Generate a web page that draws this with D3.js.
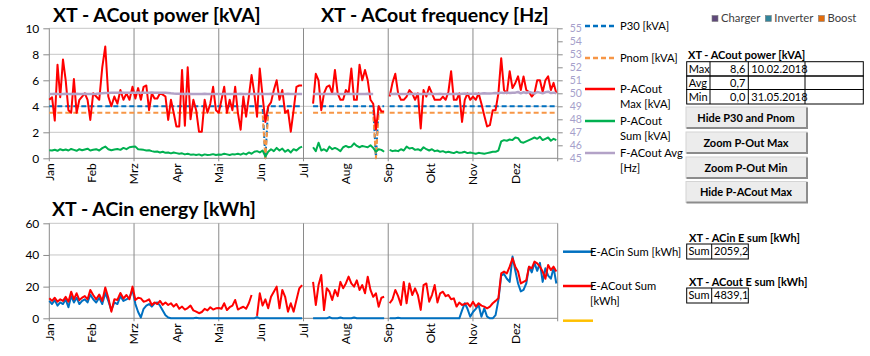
<!DOCTYPE html>
<html><head><meta charset="utf-8">
<script src="https://cdn.jsdelivr.net/npm/d3@7"></script>
<style>
body{margin:0;background:#fff;}
svg{display:block;font-family:Lato,"Open Sans",sans-serif;}
</style></head><body>
<svg id="c" width="870" height="356"></svg>
<script>
// ---------- DATA (2018, one sample every 2nd day, null = no data) ----------
const months = ["Jan","Feb","Mrz","Apr","Mai","Jun","Jul","Aug","Sep","Okt","Nov","Dez"];
const year = 2018, stepDays = 2;
const leftTicksTop = [0,2,4,6,8,10];
const rightTicksTop = [45,46,47,48,49,50,51,52,53,54,55];
const leftTicksBottom = [0,20,40,60];

// P-ACout Max [kVA]
const pMax = [
 4.5,4.7,2.9,7.2,4.7,7.6,6.0,3.7,3.5,6.1,3.5,4.5,4.75,5.0,4.5,2.95,
 5.0,4.75,4.5,7.0,8.6,4.75,4.0,4.75,4.2,5.25,4.5,5.0,4.5,5.5,
 4.6,5.4,4.5,5.5,5.6,3.7,5.0,4.6,4.6,5.0,4.9,4.75,2.95,4.5,3.5,
 2.45,2.45,6.8,2.5,7.0,3.0,4.5,3.7,2.05,2.05,4.5,3.5,4.2,5.5,3.7,
 3.5,4.5,5.5,3.5,4.5,3.7,5.5,3.5,2.2,4.75,3.2,4.75,6.4,5.0,3.2,6.9,
 4.8,2.8,4.0,4.3,5.25,6.0,4.5,5.25,3.5,3.7,2.05,3.7,5.5,5.6,5.6,
 null,null,null,4.2,6.5,6.0,3.7,5.0,5.5,5.6,5.0,6.8,5.0,4.5,4.5,
 5.25,5.0,6.9,4.5,4.5,7.2,6.0,6.8,6.0,4.5,4.2,2.2,4.0,3.6,3.6,null,
 4.75,5.8,6.5,5.0,4.5,4.5,4.75,5.25,5.0,4.5,5.0,2.3,5.25,4.75,5.5,
 5.0,4.5,4.5,4.5,4.75,4.5,5.1,6.7,4.5,4.5,5.0,2.8,4.5,5.0,4.5,
 4.75,4.5,5.0,4.2,3.3,2.45,2.55,3.7,3.7,5.0,7.7,5.25,5.0,6.7,5.4,
 5.8,6.3,5.25,6.3,5.25,5.1,4.75,5.0,6.0,6.0,5.1,6.0,6.3,5.25,5.8,5.0];

// P-ACout Sum [kVA]
const pSum = [
 0.62,0.6,0.66,0.58,0.7,0.62,0.68,0.6,0.72,0.65,0.58,0.7,0.62,0.68,0.74,0.6,
 0.65,0.7,0.6,0.78,0.9,0.7,0.62,0.68,0.72,0.65,0.8,0.7,0.85,0.88,
 0.9,0.7,0.68,0.65,0.6,0.62,0.55,0.5,0.52,0.45,0.5,0.42,0.45,0.38,0.45,
 0.4,0.35,0.38,0.3,0.35,0.28,0.3,0.25,0.3,0.22,0.3,0.25,0.28,0.32,0.26,
 0.3,0.28,0.35,0.3,0.25,0.32,0.3,0.35,0.28,0.38,0.3,0.45,0.35,0.5,0.55,0.45,
 0.6,0.15,0.5,0.7,0.55,0.8,0.6,0.75,0.5,0.65,0.45,0.7,0.6,0.8,0.9,
 null,null,null,0.85,0.55,1.2,0.6,0.7,0.55,0.9,0.7,0.8,0.7,0.55,0.85,
 0.95,0.85,0.9,1.15,0.95,0.85,0.95,0.9,0.85,1.0,0.8,0.5,0.7,0.65,0.5,null,
 0.65,0.55,0.6,0.55,0.7,0.6,0.9,0.75,0.8,0.65,0.7,0.6,0.85,0.7,0.6,
 0.7,0.55,0.6,0.5,0.55,0.45,0.5,0.45,0.4,0.5,0.42,0.45,0.5,0.4,0.45,
 0.4,0.35,0.42,0.38,0.35,0.4,0.45,0.5,0.5,0.6,1.3,1.4,1.35,1.45,1.4,
 1.6,1.55,1.25,1.2,1.3,1.4,1.5,1.6,1.5,1.65,1.4,1.5,1.6,1.35,1.5,1.4];

// F-ACout Avg [Hz]
const fAvg = [
 49.95,49.95,49.97,49.95,49.93,49.95,49.96,49.95,49.95,49.94,49.96,49.95,49.95,49.97,49.95,49.95,
 49.95,49.96,49.98,50.0,50.02,50.03,50.05,50.04,50.05,50.06,50.05,50.04,50.05,50.05,
 50.05,50.06,50.05,50.04,50.05,50.05,50.06,50.05,50.04,50.05,50.05,50.04,50.03,50.0,49.98,
 49.97,49.96,49.95,49.95,49.96,49.95,49.95,49.94,49.95,49.95,49.96,49.95,49.95,49.95,49.95,
 49.95,49.95,49.96,49.95,49.95,49.94,49.95,49.95,49.96,49.95,49.95,49.95,49.94,49.95,49.95,49.96,
 49.95,49.95,49.95,49.96,49.95,49.95,49.94,49.95,49.95,49.96,49.95,49.95,49.95,49.95,49.95,
 null,null,null,49.95,49.95,49.96,49.95,49.95,49.94,49.95,49.95,49.96,49.95,49.95,49.95,
 49.95,49.96,49.95,49.95,49.95,49.94,49.95,49.95,49.96,49.95,49.95,null,null,null,null,null,
 49.95,49.95,49.96,49.95,49.95,49.95,49.94,49.95,49.95,49.96,49.95,49.95,49.95,49.95,49.96,
 49.95,49.95,49.95,49.96,49.95,49.95,49.94,49.95,49.95,49.96,49.95,49.97,49.98,49.97,49.96,
 49.97,49.98,49.97,49.98,50.0,49.98,49.99,50.0,50.02,50.0,50.05,50.03,50.06,50.02,50.05,
 50.05,50.1,50.0,50.08,50.02,50.1,50.05,49.98,50.1,50.05,50.0,50.08,50.12,50.02,50.05,50.0];

// P30 [kVA]
const p30 = [
 4,4,4,4,4,4,4,4,4,4,4,4,4,4,4,4,
 4,4,4,4,4,4,4,4,4,4,4,4,4,4,
 4,4,4,4,4,4,4,4,4,4,4,4,4,4,4,
 4,4,4,4,4,4,4,4,4,4,4,4,4,4,4,
 4,4,4,4,4,4,4,4,4,4,4,4,4,4,4,4,
 4,0,4,4,4,4,4,4,4,4,4,4,4,4,4,
 null,null,null,4,4,4,4,4,4,4,4,4,4,4,4,
 4,4,4,4,4,4,4,4,4,4,4,0,4,4,4,null,
 4,4,4,4,4,4,4,4,4,4,4,4,4,4,4,
 4,4,4,4,4,4,4,4,4,4,4,4,4,4,4,
 4,4,4,4,4,4,4,4,4,4,4,4,4,4,4,
 4,4,4,4,4,4,4,4,4,4,4,4,4,4,4,4];

// Pnom [kVA]
const pNom = [
 3.5,3.5,3.5,3.5,3.5,3.5,3.5,3.5,3.5,3.5,3.5,3.5,3.5,3.5,3.5,3.5,
 3.5,3.5,3.5,3.5,3.5,3.5,3.5,3.5,3.5,3.5,3.5,3.5,3.5,3.5,
 3.5,3.5,3.5,3.5,3.5,3.5,3.5,3.5,3.5,3.5,3.5,3.5,3.5,3.5,3.5,
 3.5,3.5,3.5,3.5,3.5,3.5,3.5,3.5,3.5,3.5,3.5,3.5,3.5,3.5,3.5,
 3.5,3.5,3.5,3.5,3.5,3.5,3.5,3.5,3.5,3.5,3.5,3.5,3.5,3.5,3.5,3.5,
 3.5,0,3.5,3.5,3.5,3.5,3.5,3.5,3.5,3.5,3.5,3.5,3.5,3.5,3.5,
 null,null,null,3.5,3.5,3.5,3.5,3.5,3.5,3.5,3.5,3.5,3.5,3.5,3.5,
 3.5,3.5,3.5,3.5,3.5,3.5,3.5,3.5,3.5,3.5,3.5,0,3.5,3.5,3.5,null,
 3.5,3.5,3.5,3.5,3.5,3.5,3.5,3.5,3.5,3.5,3.5,3.5,3.5,3.5,3.5,
 3.5,3.5,3.5,3.5,3.5,3.5,3.5,3.5,3.5,3.5,3.5,3.5,3.5,3.5,3.5,
 3.5,3.5,3.5,3.5,3.5,3.5,3.5,3.5,3.5,3.5,3.5,3.5,3.5,3.5,3.5,
 3.5,3.5,3.5,3.5,3.5,3.5,3.5,3.5,3.5,3.5,3.5,3.5,3.5,3.5,3.5,3.5];

// E-ACin Sum [kWh]
const eIn = [
 11,9,11.5,8,10,9,12,7,14,10,13,9,11,12,10,15,
 12,10,13,9,16,11,5.2,10,9,14,11,12,13,18,
 9,4,0.5,6,8,9,7.4,9.5,10,8,5,2,0.5,0,0,
 0,0,0,0,0,0,0,0.3,0,0,0,0,0,0,0,
 0,0,0,0,0,0,0,0,0,0,0,0,0,0,0.8,0,
 0,0,0,0,0,0,0,0,0,0,0,0,0,0,0,
 null,null,null,0,0,0,0,0,0,0.8,0,0,0,0.5,0,
 0,0,0,0.5,0,0,0,0,0,0,0,0,0,0,0,null,
 0,0,0,0.4,0,0,0,0,0,0,0,0,0,0,0,
 0,0,0,0,0,0,0,0,0,0,0,5,9.5,6,1,
 4,6,8.4,1,6.3,1,0,0,2,11.5,27,28,25,23,39,
 30,22,17,17.9,22,32.6,29,35,30,35,23,31.6,27,25,32,22];

// E-ACout Sum [kWh]
const eOut = [
 12.6,11,13,10.5,12,11,13.5,10.5,16.8,12,15.8,11.5,13,14,12,17.9,
 14.7,12,15,11,19.4,13,4.2,12,11.6,16,12.5,14.7,12,20,
 11.6,13,12.6,10.5,11,12,8.4,10,9,11,8.5,10,8.4,9.5,7.4,
 9,6,7.4,5.5,6.5,8,5,4.2,3.2,4,6,5,7,5.5,6.3,
 6.5,6,9.5,5.2,7,8,11.6,5.5,6.5,7.3,6,9.5,14.7,null,1.5,15.8,
 8,12,6.3,13.6,16.8,20,6.3,17.9,13.6,4.2,9.5,4.2,11.6,18.9,21,
 null,null,null,23,8.4,21,27.3,5.2,19,16.8,11.6,17.9,14,23,19,
 22,26.3,22,20,24,17.9,21,15.8,26.3,17.9,13.6,15.8,7.3,13,13.6,null,
 9.5,12,17.9,14,8.4,23,9.5,22,14.7,18.9,14.7,5.3,21,22,10.5,
 14.7,21,10,15.8,16.8,14,14.7,12,12.6,7.4,10,8.4,9,9.5,7.4,
 10.5,7.4,9.5,8,7.4,6.3,7.4,9.5,11,12.6,28.4,29.5,28.4,32.6,37.9,
 32.6,29.5,22,23,24,32.6,31.6,35.8,34.7,32.6,29.5,25,33.7,30.5,32.6,29.5];

const statsRows = [["Max","8,6","10.02.2018"],["Avg","0,7",""],["Min","0,0","31.05.2018"]];
const eInSum = "2059,2", eOutSum = "4839,1";
const buttons = ["Hide P30 and Pnom","Zoom P-Out Max","Zoom P-Out Min","Hide P-ACout Max"];
const modes = [["Charger","#5f497a"],["Inverter","#31859c"],["Boost","#e46c0a"]];

// ---------- CHART ----------
const svg = d3.select("#c");
const dates = pMax.map((_, i) => new Date(year, 0, 1 + i * stepDays));
const monthStarts = d3.range(13).map(m => new Date(year, m, 1));
const X0 = 49.3, X1 = 557.7;
const x = d3.scaleTime().domain(monthStarts)
  .range(monthStarts.map((_, i) => X0 + (X1 - X0) * i / 12));
const yT = d3.scaleLinear([0, 10], [158.3, 28.3]);
const yF = d3.scaleLinear([45, 55], [158.3, 28.3]);
const yB = d3.scaleLinear([0, 60], [318.3, 223.3]);

const hGrid = "#c6c6c6", vGrid = "#8a8a8a";

function frame(y, ticks, top, bottom) {
  const g = svg.append("g");
  g.selectAll(".hg").data(ticks.filter(t => t !== 0)).join("line")
    .attr("x1", X0).attr("x2", X1).attr("y1", d => y(d)).attr("y2", d => y(d))
    .attr("stroke", hGrid).attr("stroke-width", 1);
  g.append("line").attr("x1", X0).attr("x2", X1).attr("y1", y(0)).attr("y2", y(0))
    .attr("stroke", vGrid).attr("stroke-width", 1);
  g.selectAll(".vg").data(monthStarts.filter((_, i) => i % 2 === 0)).join("line")
    .attr("x1", d => x(d)).attr("x2", d => x(d)).attr("y1", top).attr("y2", bottom + 3)
    .attr("stroke", vGrid).attr("stroke-width", 1);
  const ax = g.append("g").attr("transform", `translate(${X0},0)`)
    .call(d3.axisLeft(y).tickValues(ticks).tickSize(6).tickPadding(4));
  ax.select(".domain").remove();
  ax.selectAll("line").attr("stroke", vGrid);
  ax.selectAll("text").attr("font-size", 12).attr("fill", "#000").attr("font-family", "Lato");
  const xl = g.append("g");
  xl.selectAll("text").data(monthStarts.slice(0, 12)).join("text")
    .attr("transform", d => `translate(${x(d)},${bottom + 5}) rotate(-90)`)
    .attr("text-anchor", "end").attr("dy", "0.35em")
    .attr("font-size", 12).text((d, i) => months[i]);
}

frame(yT, leftTicksTop, 28.3, 158.3);
frame(yB, leftTicksBottom, 223.3, 318.3);

// right axis (frequency)
const ra = svg.append("g").attr("transform", `translate(${X1},0)`)
  .call(d3.axisRight(yF).tickValues(rightTicksTop).tickSize(5).tickPadding(7));
ra.select(".domain").remove();
ra.selectAll("line").attr("stroke", vGrid);
ra.selectAll("text").attr("font-size", 10.5).attr("fill", "#a69fcb").attr("font-family", "Lato");

function drawLine(vals, y, color, width, dash) {
  const line = d3.line().defined(d => d != null).x((d, i) => x(dates[i])).y(d => y(d));
  const p = svg.append("path").datum(vals).attr("d", line)
    .attr("fill", "none").attr("stroke", color).attr("stroke-width", width)
    .attr("stroke-linejoin", "round");
  if (dash) p.attr("stroke-dasharray", dash);
}
const cP30 = "#0070c0", cPnom = "#f79646", cRed = "#ff0000", cGreen = "#00b050", cLav = "#b3a2c7";
drawLine(p30, yT, cP30, 2, "5,3");
drawLine(pNom, yT, cPnom, 2, "5,3");
drawLine(pMax, yT, cRed, 2);
drawLine(pSum, yT, cGreen, 2);
drawLine(fAvg, yF, cLav, 2.5);
drawLine(eIn, yB, "#0070c0", 2);
drawLine(eOut, yB, cRed, 2);

// titles
function title(t, xx, yy) {
  svg.append("text").attr("x", xx).attr("y", yy).attr("font-size", 19.5)
    .attr("font-weight", "bold").attr("fill", "#000").text(t);
}
title("XT - ACout power [kVA]", 53, 22);
title("XT - ACout frequency [Hz]", 321, 22);
title("XT - ACin energy [kWh]", 52, 216);

// legends
const legT = [
  {lines:["P30 [kVA]"], c:cP30, dash:"5,3", y:26},
  {lines:["Pnom [kVA]"], c:cPnom, dash:"5,3", y:58},
  {lines:["P-ACout","Max [kVA]"], c:cRed, y:89},
  {lines:["P-ACout","Sum [kVA]"], c:cGreen, y:121},
  {lines:["F-ACout Avg","[Hz]"], c:cLav, y:153}
];
function legend(items, lx, tx) {
  items.forEach(it => {
    const l = svg.append("line").attr("x1", lx).attr("x2", lx + 30).attr("y1", it.y).attr("y2", it.y)
      .attr("stroke", it.c).attr("stroke-width", 2.5);
    if (it.dash) l.attr("stroke-dasharray", "5,3");
    it.lines.forEach((s, k) => svg.append("text").attr("x", tx).attr("y", it.y + k * 15)
      .attr("dy", "0.35em").attr("font-size", 11.2).text(s));
  });
}
legend(legT, 585, 620);
legend([
  {lines:["E-ACin Sum [kWh]"], c:"#0070c0", y:251.7},
  {lines:["E-ACout Sum","[kWh]"], c:cRed, y:286},
  {lines:[], c:"#ffc000", y:320.7}
], 563, 590);

// mode legend
let mx = 712;
modes.forEach(([name, c]) => {
  svg.append("rect").attr("x", mx).attr("y", 15.5).attr("width", 6).attr("height", 6)
    .attr("fill", c).attr("stroke", "#7f7f7f").attr("stroke-width", 0.6);
  const t = svg.append("text").attr("x", mx + 9).attr("y", 18.5).attr("dy", "0.35em")
    .attr("font-size", 11.3).attr("fill", "#404040").text(name);
  mx += 9 + t.node().getComputedTextLength() + 5;
});

// stats table
function smallTitle(t, xx, yy) {
  svg.append("text").attr("x", xx).attr("y", yy).attr("dy", "0.35em").attr("font-size", 11)
    .attr("font-weight", "bold").text(t);
}
smallTitle("XT - ACout power [kVA]", 688, 55);
const cols = [686.7, 710, 748.3, 805, 863.3];
const rowsY = [61.7, 76, 89.5, 104];
const tg = svg.append("g");
statsRows.forEach((r, i) => {
  tg.append("rect").attr("x", cols[0]).attr("y", rowsY[i]).attr("width", cols[4] - cols[0])
    .attr("height", rowsY[i + 1] - rowsY[i]).attr("fill", "none").attr("stroke", "#000");
  const cy = (rowsY[i] + rowsY[i + 1]) / 2;
  tg.append("text").attr("x", cols[0] + 2).attr("y", cy).attr("dy", "0.35em").attr("font-size", 11).text(r[0]);
  tg.append("text").attr("x", cols[2] - 3).attr("y", cy).attr("dy", "0.35em").attr("font-size", 11)
    .attr("text-anchor", "end").text(r[1]);
  tg.append("text").attr("x", cols[2] + 3).attr("y", cy).attr("dy", "0.35em").attr("font-size", 11).text(r[2]);
});
[1, 2, 3].forEach(k => tg.append("line").attr("x1", cols[k]).attr("x2", cols[k])
  .attr("y1", rowsY[0]).attr("y2", rowsY[3]).attr("stroke", "#000"));

// buttons
const btnY = [107, 132, 157, 181.5];
buttons.forEach((b, i) => {
  const g = svg.append("g").attr("transform", `translate(686,${btnY[i]})`);
  g.append("rect").attr("width", 121).attr("height", 21).attr("fill", "#ececec")
    .attr("stroke", "#d4d4d4");
  g.append("path").attr("d", "M0.5,21 H121 V0.5").attr("fill", "none").attr("stroke", "#8c8c8c").attr("stroke-width", 2);
  g.append("text").attr("x", 60).attr("y", 11).attr("dy", "0.35em").attr("text-anchor", "middle")
    .attr("font-size", 11).attr("font-weight", "bold").text(b);
});

// energy sums
function sumBox(t, v, ty) {
  smallTitle(t, 689, ty);
  const by = ty + 6;
  svg.append("rect").attr("x", 686.7).attr("y", by).attr("width", 61.6).attr("height", 15)
    .attr("fill", "none").attr("stroke", "#000");
  svg.append("line").attr("x1", 711.7).attr("x2", 711.7).attr("y1", by).attr("y2", by + 15).attr("stroke", "#000");
  svg.append("text").attr("x", 688.5).attr("y", by + 7.5).attr("dy", "0.35em").attr("font-size", 11).text("Sum");
  svg.append("text").attr("x", 714).attr("y", by + 7.5).attr("dy", "0.35em").attr("font-size", 11).text(v);
}
sumBox("XT - ACin E sum [kWh]", eInSum, 238);
sumBox("XT - ACout E sum [kWh]", eOutSum, 282);
</script></body></html>
